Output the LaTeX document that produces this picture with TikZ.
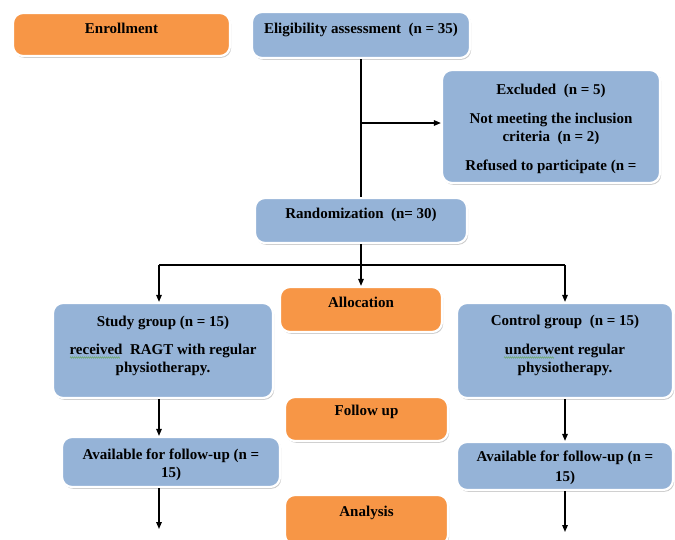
\documentclass[tikz,border=0pt]{standalone}
\usepackage{fontspec}
\setmainfont{Liberation Serif}
\usetikzlibrary{arrows.meta,shadows,decorations.pathmorphing}
\definecolor{orangebox}{HTML}{F79646}
\definecolor{bluebox}{HTML}{95B3D7}
\definecolor{spellgreen}{HTML}{6FA86F}
\newcommand{\bt}[4]{\parbox[t][#2][t]{#1}{\centering\fontsize{15}{18}\selectfont\bfseries\vspace*{#3}#4\par}}
\tikzset{
  basebox/.style={rounded corners=10pt, draw=white, line width=2.2pt, inner sep=0pt,
    drop shadow={shadow xshift=1.2pt, shadow yshift=-1.8pt, opacity=0.35, fill=black!60}},
  obox/.style={basebox, fill=orangebox},
  bbox/.style={basebox, fill=bluebox},
  conn/.style={line width=1.4pt, black},
  arr/.style={conn, -{Triangle[length=7pt,width=5.5pt]}},
  squiggle/.style={spellgreen, line width=0.6pt, decorate, decoration={zigzag, amplitude=0.6pt, segment length=2pt}}
}
\begin{document}
\begin{tikzpicture}[x=1pt,y=-1pt]
\useasboundingbox (0,0) rectangle (675,539);
\node[obox] (enr) at (121.5,34.5) {\bt{217pt}{43pt}{10pt}{Enrollment}};
\node[bbox] (elig) at (361,35) {\bt{218pt}{46pt}{11pt}{Eligibility assessment\ \ (n = 35)}};
\node[bbox] (excl) at (551,126.5) {\bt{218pt}{113pt}{14pt}{Excluded\ \ (n = 5)\\[11pt] Not meeting the inclusion\\ criteria\ \ (n = 2)\\[11pt] Refused to participate (n =}};
\node[bbox] (rand) at (361,220.5) {\bt{212pt}{45pt}{10pt}{Randomization\ \ (n= 30)}};
\node[obox] (alloc) at (361,309.5) {\bt{162pt}{45pt}{10pt}{Allocation}};
\node[bbox] (study) at (163,350.5) {\bt{220pt}{95pt}{13pt}{Study group (n = 15)\\[10pt] received\ \ RAGT with regular\\ physiotherapy.}};
\node[bbox] (ctrl) at (565,350.5) {\bt{216pt}{95pt}{12pt}{Control group\ \ (n = 15)\\[11pt] underwent regular\\ physiotherapy.}};
\node[obox] (fu) at (366.5,419) {\bt{163pt}{44pt}{8pt}{Follow up}};
\node[bbox] (availL) at (171,462) {\bt{218pt}{50pt}{12pt}{Available for follow-up (n =\\ 15)}};
\node[bbox] (availR) at (565,466) {\bt{216pt}{48pt}{9pt}{Available for follow-up (n =\\[2pt] 15)}};
\node[obox] (anal) at (366.5,520) {\bt{163pt}{50pt}{11pt}{Analysis}};
% spell-check squiggles
\draw[squiggle] (70,357.5) -- (120,357.5);
\draw[squiggle] (504,357.5) -- (554,357.5);
% connectors
\coordinate (bj) at (361,123);
\coordinate (lx) at (159,265);
\coordinate (rx) at (565,265);
\coordinate (endL) at (159,529);
\coordinate (endR) at (565,532);
\draw[conn] (elig.south) -- (rand.north);
\draw[arr] (bj) -- (bj -| excl.west);
\draw[arr] (rand.south) -- (alloc.north);
\draw[conn] (lx) -- (rx);
\draw[arr] (lx) -- (lx |- study.north);
\draw[arr] (rx) -- (ctrl.north);
\draw[arr] (study.south -| lx) -- (availL.north -| lx);
\draw[arr] (ctrl.south) -- (availR.north);
\draw[arr] (availL.south -| lx) -- (endL);
\draw[arr] (availR.south) -- (endR);
\end{tikzpicture}
\end{document}
